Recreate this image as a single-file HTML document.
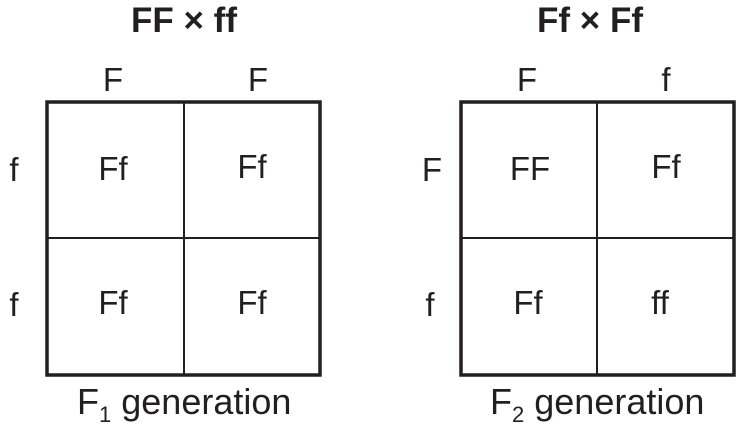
<!DOCTYPE html>
<html><head><style>body{margin:0;background:#fff}</style></head><body>
<svg width="742" height="433" xmlns="http://www.w3.org/2000/svg" font-family="Liberation Sans, sans-serif" fill="#231f20">
<g font-size="35" font-weight="bold" text-anchor="middle">
<text x="184" y="32">FF × ff</text>
<text x="590" y="32">Ff × Ff</text>
</g>
<g fill="none" stroke="#231f20">
<rect x="47" y="102" width="273" height="273" stroke-width="3.5"/>
<line x1="184" y1="102" x2="184" y2="375" stroke-width="2"/>
<line x1="47" y1="238" x2="320" y2="238" stroke-width="2"/>
<rect x="461" y="102" width="273" height="273" stroke-width="3.5"/>
<line x1="597" y1="102" x2="597" y2="375" stroke-width="2"/>
<line x1="461" y1="238" x2="734" y2="238" stroke-width="2"/>
</g>
<g font-size="33" text-anchor="middle">
<text x="113" y="91">F</text><text x="258" y="91">F</text>
<text x="527" y="91">F</text><text x="666" y="91">f</text>
<text x="14" y="181">f</text><text x="14" y="316">f</text>
<text x="432" y="181">F</text><text x="430" y="316">f</text>
<text x="113" y="180">Ff</text><text x="252" y="178">Ff</text>
<text x="113" y="314">Ff</text><text x="252" y="314">Ff</text>
<text x="530" y="180">FF</text><text x="666" y="178">Ff</text>
<text x="528" y="314">Ff</text><text x="660" y="314">ff</text>
</g>
<g font-size="36">
<text x="77" y="414">F<tspan font-size="22" dy="8">1</tspan><tspan dy="-8"> generation</tspan></text>
<text x="490" y="414">F<tspan font-size="22" dy="8">2</tspan><tspan dy="-8"> generation</tspan></text>
</g>
</svg>
</body></html>
